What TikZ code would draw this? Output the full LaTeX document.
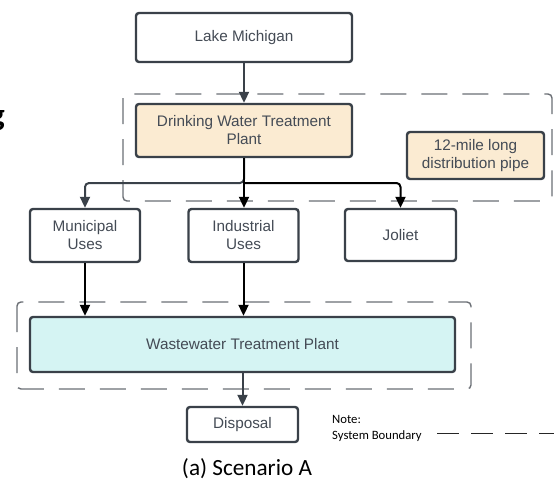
\documentclass[tikz,border=0pt]{standalone}
\usepackage{fontspec}
\setmainfont{Liberation Sans}
\newfontfamily\calibri{Carlito}
\usetikzlibrary{arrows.meta}
\definecolor{edge}{HTML}{3A4149}
\definecolor{ink}{HTML}{444B55}
\definecolor{beige}{HTML}{FBEBD2}
\definecolor{aqua}{HTML}{D5F4F3}
\definecolor{bound}{HTML}{6B6F75}
\tikzset{
  block/.style={draw=edge, line width=2.4pt, rounded corners=3pt, fill=white,
    inner sep=0pt, align=center, text=ink, font=\fontsize{15.3}{18}\selectfont},
  boundary/.style={draw=bound, line width=1.4pt, rounded corners=4pt,
    dash pattern=on 26pt off 15pt},
  flowgray/.style={draw=edge, line width=2pt, rounded corners=4pt,
    -{Triangle[length=11pt,width=10pt]}},
  flowblack/.style={draw=black, line width=2pt, rounded corners=4pt,
    -{Triangle[length=11pt,width=10pt]}},
}
\begin{document}
\begin{tikzpicture}[x=1pt,y=-1pt]
\useasboundingbox (0,0) rectangle (554,485);
\fill[white] (0,0) rectangle (554,485);

% edge of a larger heading, cut by the frame
\begin{scope}
  \clip (0,0) rectangle (554,485);
  \node[anchor=east, inner sep=0pt, font=\calibri\bfseries\fontsize{32}{34}\selectfont] (headg) at (5,120) {g};
\end{scope}

% system boundaries
\draw[boundary] (123,94) rectangle (552,201);
\draw[boundary] (17,302) rectangle (471,389);

% blocks
\node[block, minimum width=216pt, minimum height=49pt] (lake) at (244,37.5) {Lake Michigan};
\node[block, fill=beige, minimum width=216pt, minimum height=53pt] (dwtp) at (244,130.5) {Drinking Water Treatment\\Plant};
\node[block, fill=beige, minimum width=137pt, minimum height=47pt] (pipe) at (475.5,155.5) {12-mile long\\distribution pipe};
\node[block, minimum width=110pt, minimum height=53pt] (muni) at (85,235.5) {Municipal\\Uses};
\node[block, minimum width=110pt, minimum height=53pt] (indu) at (243.5,235.5) {Industrial\\Uses};
\node[block, minimum width=111pt, minimum height=52pt] (joliet) at (400.5,235) {Joliet};
\node[block, fill=aqua, minimum width=425pt, minimum height=55pt] (wwtp) at (242.5,344.5) {Wastewater Treatment Plant};
\node[block, minimum width=111pt, minimum height=35pt] (disp) at (242.5,424.5) {Disposal};

% flows
\coordinate (split) at (244,183);
\draw[flowgray] (lake.south) -- (lake.south |- dwtp.north);
\draw[flowgray] (dwtp.south) -- (split) -| (muni.north);
\draw[flowblack] (dwtp.south) -- (dwtp.south |- indu.north);
\draw[flowblack] (split) -| (joliet.north);
\draw[flowblack] (muni.south) -- (muni.south |- wwtp.north);
\draw[flowblack] (indu.south) -- (indu.south |- wwtp.north);
\draw[flowgray] (wwtp.south) -- (wwtp.south |- disp.north);

% legend
\node[anchor=west, inner sep=0pt, font=\calibri\fontsize{12.7}{15}\selectfont] (note) at (332,419) {Note:};
\node[anchor=west, inner sep=0pt, font=\calibri\fontsize{12.7}{15}\selectfont] (sysb) at (332,436) {System Boundary};
\coordinate (legend-end) at (556,433);
\draw[draw=black!85, line width=1pt, dash pattern=on 22pt off 12pt] (437,433) -- (legend-end);

% caption
\node[inner sep=0pt, font=\calibri\fontsize{23.2}{27}\selectfont] (caption) at (247,469) {(a) Scenario A};
\end{tikzpicture}
\end{document}
